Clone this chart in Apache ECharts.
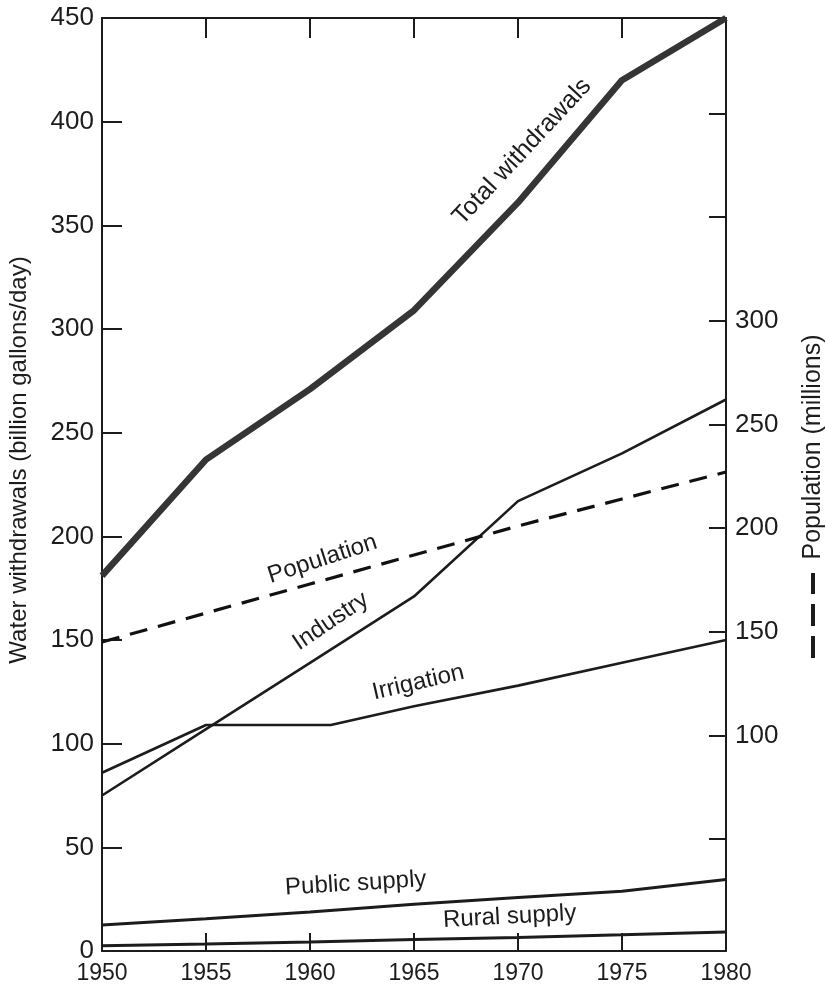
<!DOCTYPE html>
<html>
<head>
<meta charset="utf-8">
<script src="https://cdn.jsdelivr.net/npm/echarts@6/dist/echarts.min.js"></script>
<style>
html,body{margin:0;padding:0;background:#fff;}
#c{width:826px;height:993px;}
</style>
</head>
<body>
<div id="c"></div>
<script>
// ---- data ----
const years = [1950, 1955, 1960, 1965, 1970, 1975, 1980];
const totalWithdrawals = [181, 237, 271, 309, 361, 420, 450];
const industry = [75, 107, 139, 171, 217, 240, 266];
const irrigationYears = [1950, 1955, 1961, 1965, 1970, 1975, 1980];
const irrigation = [86, 109, 109, 118, 128, 139, 150];
const publicSupply = [12.5, 15.5, 18.8, 22.5, 25.8, 28.8, 34.5];
const ruralSupply = [2.5, 3.4, 4.4, 5.6, 6.5, 7.8, 9.2];
const population = [145, 159, 173, 187, 201, 214, 227]; // millions, right axis

const rightTickValues = [50, 100, 150, 200, 250, 300, 350, 400];
const rightLabelValues = [100, 150, 200, 250, 300];

// ---- chart ----
const FONT = '"Liberation Sans", Arial, Helvetica, sans-serif';
const INK = '#1c1c1c';
const pair = (xs, ys) => xs.map((x, i) => [x, ys[i]]);

const chart = echarts.init(document.getElementById('c'), null, {renderer: 'canvas'});

const axisLine = {show: true, onZero: false, lineStyle: {color: INK, width: 2}};
const tickStyle = {color: INK, width: 2};

const option = {
  animation: false,
  backgroundColor: '#ffffff',
  grid: {left: 102, right: 100, top: 18, bottom: 42, containLabel: false},
  xAxis: [
    {
      type: 'value', min: 1950, max: 1980, interval: 5, position: 'bottom',
      axisLine: axisLine,
      axisTick: {show: true, inside: true, length: 18, lineStyle: tickStyle},
      axisLabel: {color: INK, fontSize: 23, fontFamily: FONT, margin: 11, formatter: v => String(v)},
      splitLine: {show: false}
    },
    {
      type: 'value', min: 1950, max: 1980, interval: 5, position: 'top',
      axisLine: axisLine,
      axisTick: {show: true, inside: true, length: 20, lineStyle: tickStyle},
      axisLabel: {show: false},
      splitLine: {show: false}
    }
  ],
  yAxis: [
    {
      type: 'value', min: 0, max: 450, interval: 50, position: 'left',
      axisLine: axisLine,
      axisTick: {show: true, inside: true, length: 20, lineStyle: tickStyle},
      axisLabel: {color: INK, fontSize: 26, fontFamily: FONT, margin: 8},
      splitLine: {show: false}
    },
    {
      type: 'value', min: -4, max: 446, position: 'right',
      axisLine: axisLine,
      axisTick: {show: true, inside: true, length: 17, lineStyle: tickStyle, customValues: rightTickValues},
      axisLabel: {color: INK, fontSize: 26, fontFamily: FONT, margin: 9, customValues: rightLabelValues},
      splitLine: {show: false}
    }
  ],
  series: [
    {name: 'Total withdrawals', type: 'line', data: pair(years, totalWithdrawals), symbol: 'none',
     lineStyle: {color: '#353535', width: 6.5}, z: 5},
    {name: 'Industry', type: 'line', data: pair(years, industry), symbol: 'none',
     lineStyle: {color: INK, width: 2.6}},
    {name: 'Irrigation', type: 'line', data: pair(irrigationYears, irrigation), symbol: 'none',
     lineStyle: {color: INK, width: 2.6}},
    {name: 'Public supply', type: 'line', data: pair(years, publicSupply), symbol: 'none',
     lineStyle: {color: INK, width: 3}},
    {name: 'Rural supply', type: 'line', data: pair(years, ruralSupply), symbol: 'none',
     lineStyle: {color: INK, width: 3}},
    {name: 'Population', type: 'line', yAxisIndex: 1, data: pair(years, population), symbol: 'none',
     lineStyle: {color: '#111', width: 3.2, type: [18, 11], cap: 'butt'}}
  ]
};
chart.setOption(option);

// ---- in-plot labels (anchor in data coordinates, angle in degrees) ----
const seriesLabels = [
  {text: 'Total withdrawals', at: [1970.2, 385.5], angle: 47, size: 25},
  {text: 'Population', at: [1960.6, 189], angle: 18, size: 24},
  {text: 'Industry', at: [1961.0, 159], angle: 34, size: 24},
  {text: 'Irrigation', at: [1965.2, 129.5], angle: 13, size: 24},
  {text: 'Public supply', at: [1962.2, 32.5], angle: 3.5, size: 24},
  {text: 'Rural supply', at: [1969.6, 16.5], angle: 3, size: 24}
];

const graphics = seriesLabels.map(l => {
  const p = chart.convertToPixel({xAxisIndex: 0, yAxisIndex: 0}, l.at);
  return {
    type: 'text', x: p[0], y: p[1], rotation: l.angle * Math.PI / 180,
    style: {text: l.text, fill: INK, font: l.size + 'px ' + FONT, align: 'center', verticalAlign: 'middle'},
    z: 10
  };
});

// axis titles
graphics.push({
  type: 'text', x: 19, y: 460, rotation: Math.PI / 2,
  style: {text: 'Water withdrawals (billion gallons/day)', fill: INK, font: '24px ' + FONT,
          align: 'center', verticalAlign: 'middle'}
});
graphics.push({
  type: 'text', x: 813, y: 447, rotation: Math.PI / 2,
  style: {text: 'Population (millions)', fill: INK, font: '25px ' + FONT,
          align: 'center', verticalAlign: 'middle'}
});
graphics.push({
  type: 'line', shape: {x1: 813, y1: 658, x2: 813, y2: 573},
  style: {stroke: INK, lineWidth: 4, lineDash: [22, 10]}
});

chart.setOption({graphic: graphics});
</script>
</body>
</html>
